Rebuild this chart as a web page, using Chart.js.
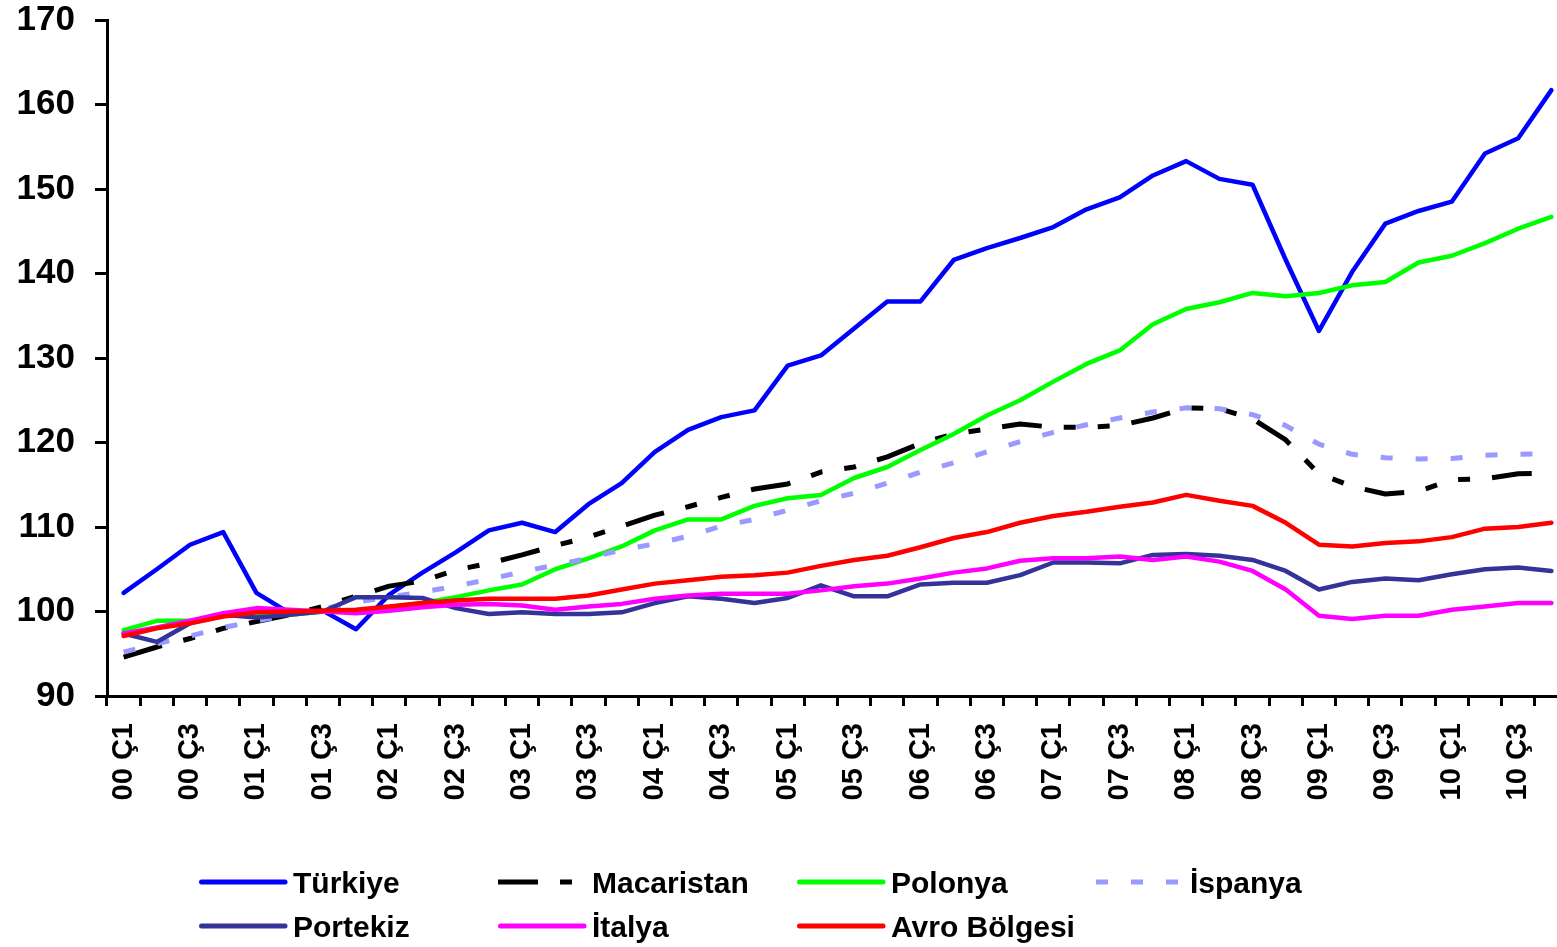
<!DOCTYPE html>
<html>
<head>
<meta charset="utf-8">
<script src="https://cdn.jsdelivr.net/npm/chart.js@4.4.1/dist/chart.umd.min.js"></script>
<style>
html,body{margin:0;padding:0;overflow:hidden;background:#fff;width:1557px;height:947px}
#wrap{position:absolute;left:0;top:0;width:1568px;height:947px}
canvas{display:block}
</style>
</head>
<body>
<div id="wrap"><canvas id="c" width="1568" height="947"></canvas></div>
<script>
const categories = [
  "00 Ç1","00 Ç2","00 Ç3","00 Ç4","01 Ç1","01 Ç2","01 Ç3","01 Ç4",
  "02 Ç1","02 Ç2","02 Ç3","02 Ç4","03 Ç1","03 Ç2","03 Ç3","03 Ç4",
  "04 Ç1","04 Ç2","04 Ç3","04 Ç4","05 Ç1","05 Ç2","05 Ç3","05 Ç4",
  "06 Ç1","06 Ç2","06 Ç3","06 Ç4","07 Ç1","07 Ç2","07 Ç3","07 Ç4",
  "08 Ç1","08 Ç2","08 Ç3","08 Ç4","09 Ç1","09 Ç2","09 Ç3","09 Ç4",
  "10 Ç1","10 Ç2","10 Ç3","10 Ç4"
];

const turkiye = [102.2,105.0,107.9,109.4,102.2,99.8,100.1,97.9,102.0,104.6,107.0,109.6,
  110.5,109.4,112.7,115.2,118.9,121.5,123.0,123.8,129.1,130.3,133.5,136.7,
  136.7,141.6,143.0,144.2,145.5,147.6,149.0,151.6,153.3,151.2,150.5,141.6,
  133.2,140.2,145.9,147.4,148.5,154.2,156.0,161.7];

const macaristan = [94.6,95.8,96.8,98.0,98.8,99.6,100.6,101.8,103.0,103.6,104.9,105.7,
  106.7,107.8,108.8,110.1,111.4,112.4,113.5,114.5,115.1,116.5,117.1,118.3,
  119.9,121.0,121.6,122.2,121.8,121.8,122.0,122.9,124.1,124.0,122.8,120.3,
  116.3,114.8,113.9,114.2,115.6,115.7,116.3,116.4];

const polonya = [97.8,98.9,98.9,99.5,99.7,99.6,100.0,100.1,100.5,101.0,101.7,102.5,
  103.2,105.0,106.3,107.7,109.6,110.9,110.9,112.5,113.4,113.8,115.8,117.1,
  119.1,121.0,123.2,125.0,127.2,129.3,130.9,134.0,135.8,136.6,137.7,137.3,
  137.7,138.6,139.0,141.3,142.1,143.6,145.3,146.7];

const ispanya = [95.2,96.2,97.1,98.1,98.9,99.6,100.3,101.1,101.7,102.3,103.0,103.8,
  104.7,105.5,106.3,107.3,108.0,108.9,110.1,110.9,112.0,113.1,114.0,115.2,
  116.5,117.6,118.9,120.1,121.2,122.1,122.9,123.6,124.1,124.0,123.3,122.0,
  119.8,118.6,118.2,118.05,118.1,118.5,118.6,118.7];

const portekiz = [97.4,96.4,98.6,99.6,99.3,99.6,100.0,101.7,101.7,101.6,100.4,99.7,
  99.9,99.7,99.7,99.9,101.0,101.8,101.5,101.0,101.6,103.1,101.8,101.8,
  103.2,103.4,103.4,104.3,105.8,105.8,105.7,106.7,106.8,106.6,106.1,104.8,
  102.6,103.5,103.9,103.7,104.4,105.0,105.2,104.8];

const italya = [97.4,98.1,98.9,99.8,100.4,100.2,100.0,99.8,100.1,100.5,100.8,100.9,
  100.7,100.2,100.6,100.9,101.5,101.9,102.1,102.1,102.1,102.5,103.0,103.3,
  103.9,104.6,105.1,106.0,106.3,106.3,106.5,106.1,106.5,105.9,104.8,102.6,
  99.5,99.1,99.5,99.5,100.2,100.6,101.0,101.0];

const avroBolgesi = [97.1,98.0,98.6,99.4,99.9,100.0,100.1,100.2,100.6,101.0,101.3,101.5,
  101.5,101.5,101.9,102.6,103.3,103.7,104.1,104.3,104.6,105.4,106.1,106.6,
  107.6,108.7,109.4,110.5,111.3,111.8,112.4,112.9,113.8,113.1,112.5,110.5,
  107.9,107.7,108.1,108.3,108.8,109.8,110.0,110.5];

const yTicks = {min: 90, max: 170, step: 10};

const FONT = '"Liberation Sans", Arial, Helvetica, sans-serif';

const series = [
  {label: 'Türkiye',      data: turkiye,     color: '#0000FF', dash: []},
  {label: 'Macaristan',   data: macaristan,  color: '#000000', dash: [40, 22, 12, 22, 12, 22]},
  {label: 'Polonya',      data: polonya,     color: '#00FF00', dash: []},
  {label: 'İspanya',      data: ispanya,     color: '#9999FF', dash: [12, 23]},
  {label: 'Portekiz',     data: portekiz,    color: '#333399', dash: []},
  {label: 'İtalya',       data: italya,      color: '#FF00FF', dash: []},
  {label: 'Avro Bölgesi', data: avroBolgesi, color: '#FF0000', dash: []}
];

const legendPlugin = {
  id: 'gridLegend',
  afterDraw(chart) {
    const ctx = chart.ctx;
    ctx.save();
    chart.data.datasets.forEach((ds, i) => {
      const row = i < 4 ? 0 : 1;
      const col = i < 4 ? i : i - 4;
      const x0 = 199 + col * 299;
      const yLine = 882 + row * 44;
      const dashed = ds.borderDash && ds.borderDash.length;
      ctx.strokeStyle = ds.borderColor;
      ctx.lineWidth = 5;
      ctx.setLineDash(dashed ? ds.borderDash : []);
      ctx.lineCap = dashed ? 'butt' : 'round';
      ctx.beginPath();
      if (dashed) { ctx.moveTo(x0, yLine); ctx.lineTo(x0 + 88, yLine); }
      else { ctx.moveTo(x0 + 2.5, yLine); ctx.lineTo(x0 + 86, yLine); }
      ctx.stroke();
      ctx.setLineDash([]);
      ctx.fillStyle = '#000';
      ctx.font = 'bold 30px ' + FONT;
      ctx.textAlign = 'left';
      ctx.textBaseline = 'alphabetic';
      ctx.fillText(ds.label, x0 + 94, 893 + row * 44);
    });
    ctx.restore();
  }
};

new Chart(document.getElementById('c'), {
  type: 'line',
  data: {
    labels: categories,
    datasets: series.map((s, i) => ({
      label: s.label,
      data: s.data,
      borderColor: s.color,
      backgroundColor: s.color,
      borderWidth: s.dash.length ? 5 : 4.5,
      borderDash: s.dash,
      borderCapStyle: s.dash.length ? 'butt' : 'round',
      borderJoinStyle: 'round',
      pointRadius: 0,
      pointHoverRadius: 0,
      tension: 0,
      fill: false,
      order: series.length - i
    }))
  },
  options: {
    responsive: false,
    animation: false,
    layout: {padding: {top: 20, left: 0, right: 0, bottom: 141}},
    plugins: {legend: {display: false}, tooltip: {enabled: false}},
    scales: {
      x: {
        type: 'category',
        offset: true,
        grid: {offset: true, drawOnChartArea: false, drawTicks: true, tickLength: 10, color: '#000', lineWidth: 3},
        border: {display: true, color: '#000', width: 3},
        ticks: {
          autoSkip: false, minRotation: 90, maxRotation: 90, padding: 17, color: '#000',
          font: {family: FONT, size: 29, weight: 'bold', lineHeight: 1},
          callback: function (v, i) { return i % 2 === 0 ? this.getLabelForValue(v) : ''; }
        },
        afterFit: (s) => { s.height = 110; s.paddingLeft = 0; s.paddingRight = 0; }
      },
      y: {
        min: yTicks.min, max: yTicks.max,
        ticks: {stepSize: yTicks.step, padding: 20, color: '#000',
          font: {family: FONT, size: 35, weight: 'bold', lineHeight: 1}},
        grid: {drawOnChartArea: false, tickLength: 12, color: '#000', lineWidth: 3},
        border: {display: true, color: '#000', width: 3},
        afterFit: (s) => { s.width = 107; s.paddingTop = 0; s.paddingBottom = 0; }
      }
    }
  },
  plugins: [legendPlugin]
});
</script>
</body>
</html>
